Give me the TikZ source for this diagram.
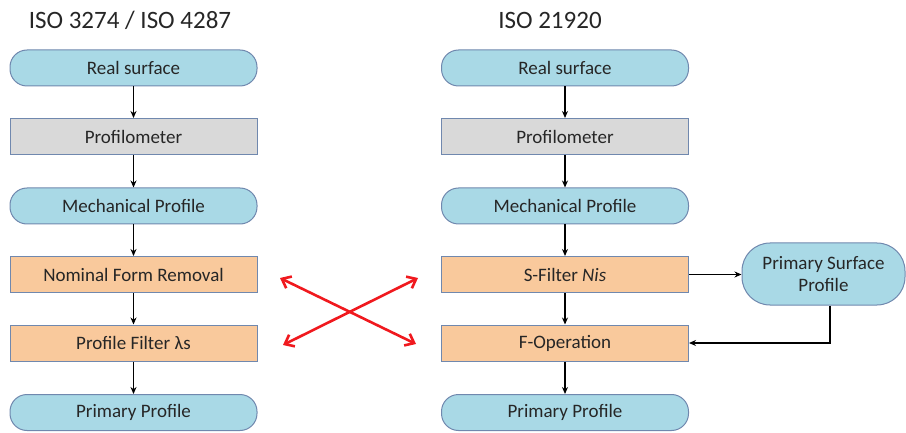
\documentclass[tikz,border=0pt]{standalone}
\usepackage{fontspec}
\setmainfont{Carlito}
\usetikzlibrary{arrows.meta,positioning}
\definecolor{blueF}{HTML}{A9D9E6}
\definecolor{greyF}{HTML}{D9D9D9}
\definecolor{orangeF}{HTML}{F9C99C}
\definecolor{edgeC}{HTML}{7088AE}
\definecolor{redA}{HTML}{F0191E}
\definecolor{txt}{HTML}{262626}
\begin{document}
\begin{tikzpicture}[x=1pt,y=-1pt,
  base/.style={draw=edgeC,line width=1pt,minimum width=247pt,minimum height=36pt,inner sep=0pt,font=\fontsize{19}{21}\selectfont,text=txt},
  stadium/.style={base,fill=blueF,rounded corners=17pt},
  greybox/.style={base,fill=greyF},
  orangebox/.style={base,fill=orangeF},
  flow/.style={-{Stealth[length=7pt,width=6pt]},line width=1.7pt,black},
  redarrow/.style={{Straight Barb[length=8pt,width=13pt]}-{Straight Barb[length=8pt,width=13pt]},line width=2.6pt,redA},
  title/.style={font=\fontsize{25}{27}\selectfont,text=txt}]
\useasboundingbox (0,0) rectangle (906,433);
% titles
\node[title] (t1) at (130,20) {ISO 3274 / ISO 4287};
\node[title] (t2) at (550,20) {ISO 21920};
% left column
\node[stadium]   (l1) at (133.5,68)    {Real surface};
\node[greybox]   (l2) at (133.5,136.5) {Profilometer};
\node[stadium]   (l3) at (133.5,206)   {Mechanical Profile};
\node[orangebox] (l4) at (133.5,274.5) {Nominal Form Removal};
\node[orangebox] (l5) at (133.5,343)   {Profile Filter λs};
\node[stadium]   (l6) at (133.5,412.5) {Primary Profile};
% right column
\node[stadium]   (r1) at (565,68)    {Real surface};
\node[greybox]   (r2) at (565,136.5) {Profilometer};
\node[stadium]   (r3) at (565,206)   {Mechanical Profile};
\node[orangebox] (r4) at (565,274.5) {S-Filter \textit{Nis}};
\node[orangebox] (r5) at (565,343)   {F-Operation};
\node[stadium]   (r6) at (565,412.5) {Primary Profile};
\node[base,fill=blueF,rounded corners=28pt,minimum width=163pt,minimum height=62pt,align=center,font=\fontsize{19}{22}\selectfont] (psp) at (823.5,274) {Primary Surface\\Profile};
% flows
\foreach \a/\b in {l1/l2,l2/l3,l3/l4,l4/l5,l5/l6,r1/r2,r2/r3,r3/r4,r4/r5,r5/r6}
  \draw[flow] (\a.south) -- (\b.north);
\draw[flow] (r4.east) -- (psp.west |- r4.east);
\coordinate (bend) at (830,343);
\draw[flow] (psp.south -| bend) -- (bend) -- (r5.east);
% red cross arrows
\coordinate (a1) at (280,278);
\coordinate (a2) at (416,344);
\coordinate (b1) at (283,345);
\coordinate (b2) at (418,278);
\draw[redarrow] (a1) -- (a2);
\draw[redarrow] (b1) -- (b2);
\end{tikzpicture}
\end{document}
